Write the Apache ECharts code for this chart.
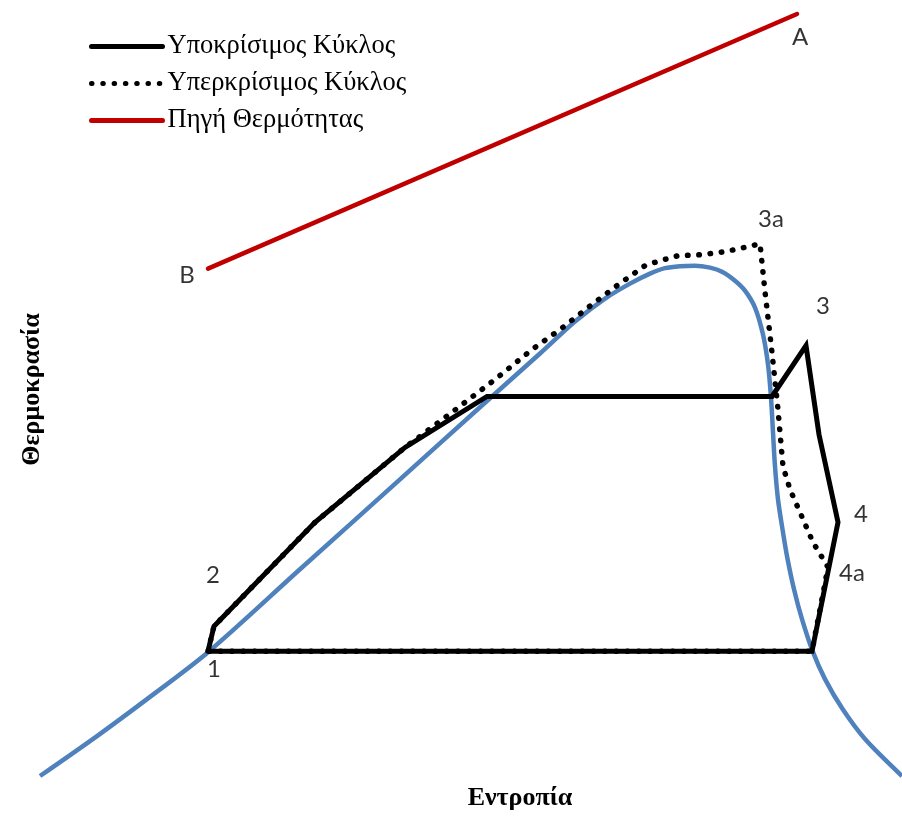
<!DOCTYPE html>
<html>
<head>
<meta charset="utf-8">
<script src="https://cdn.jsdelivr.net/npm/echarts@6/dist/echarts.min.js"></script>
<style>
html,body{margin:0;padding:0;background:#fff;}
#chart{width:902px;height:816px;}
</style>
</head>
<body>
<div id="chart"></div>
<script>
// Entropy (x) / Temperature (y) in arbitrary units
var saturationCurve = [
  [0.00, 0.3], [0.57, 4.3], [1.07, 8.0], [1.68, 12.7], [2.60, 21.0], [3.60, 30.0],
  [4.43, 37.5], [5.00, 42.6], [5.35, 45.8], [5.65, 48.1], [5.90, 49.6], [6.10, 50.6],
  [6.25, 51.15], [6.40, 51.35], [6.55, 51.4], [6.70, 51.2], [6.82, 50.8], [6.95, 49.9],
  [7.05, 48.9], [7.15, 47.2], [7.23, 44.5], [7.28, 41.5], [7.31, 38.2], [7.33, 34.7],
  [7.35, 31.3], [7.38, 28.0], [7.43, 24.7], [7.476, 22.0], [7.54, 19.0], [7.62, 16.0],
  [7.726, 12.8], [7.85, 10.0], [8.026, 7.0], [8.25, 4.0], [8.62, 0.3]
];
var subcriticalCycle = [
  [1.68, 12.8], [1.74, 15.3], [2.75, 25.7], [3.65, 33.2], [4.47, 38.3], [7.32, 38.3],
  [7.66, 43.4], [7.79, 34.5], [7.98, 25.7], [7.72, 12.8], [1.68, 12.8]
];
var supercriticalCycle = [
  [1.68, 12.8], [1.74, 15.3], [2.75, 25.7], [3.65, 33.2], [3.80, 34.3], [4.17, 37.1],
  [4.55, 40.0], [4.92, 43.0], [5.20, 45.0], [5.48, 47.2], [5.77, 49.4], [6.05, 51.4],
  [6.17, 51.8], [6.38, 52.4], [6.62, 52.5], [6.85, 52.8], [7.08, 53.3], [7.20, 53.6],
  [7.25, 48.8], [7.32, 42.7], [7.38, 37.0], [7.43, 31.3], [7.50, 29.0], [7.60, 26.7],
  [7.73, 23.7], [7.88, 21.2], [7.72, 12.8], [1.68, 12.8]
];
var heatSource = [[1.68, 51.1], [7.57, 76.6]];

var seriesNames = ['Υποκρίσιμος Κύκλος', 'Υπερκρίσιμος Κύκλος', 'Πηγή Θερμότητας'];
var axisNames = ['Εντροπία', 'Θερμοκρασία'];

// point labels: name, source point
var pointLabels = [
  {name: 'A',  point: heatSource[1],          offset: [3, 23]},
  {name: 'B',  point: heatSource[0],          offset: [-21, 7]},
  {name: '1',  point: subcriticalCycle[0],    offset: [6, 18]},
  {name: '2',  point: subcriticalCycle[1],    offset: [-1, -51]},
  {name: '3',  point: subcriticalCycle[6],    offset: [17, -39]},
  {name: '3a', point: supercriticalCycle[17], offset: [11, -24]},
  {name: '4',  point: subcriticalCycle[8],    offset: [23, -8]},
  {name: '4a', point: supercriticalCycle[25], offset: [24, 6]}
];

var chart = echarts.init(document.getElementById('chart'), null, {renderer: 'canvas'});
var serif = '"Liberation Serif", "Times New Roman", serif';
var sans = 'Lato, "Liberation Sans", sans-serif';

chart.setOption({
  animation: false,
  backgroundColor: '#ffffff',
  grid: {left: 40, right: 0, top: 0, bottom: 36, containLabel: false},
  legend: {
    orient: 'vertical',
    left: 84,
    top: 28,
    itemWidth: 71,
    itemHeight: 14,
    itemGap: 10,
    data: seriesNames,
    itemStyle: {opacity: 0},
    lineStyle: {width: 5, cap: 'round'},
    textStyle: {fontFamily: serif, fontSize: 26.5, lineHeight: 26, color: '#000'}
  },
  xAxis: {
    type: 'value', min: 0, max: 8.62,
    axisLine: {show: false}, axisTick: {show: false}, axisLabel: {show: false}, splitLine: {show: false},
    name: axisNames[0], nameLocation: 'middle', nameGap: 6,
    nameTextStyle: {fontFamily: serif, fontWeight: 'bold', fontSize: 26, color: '#000', padding: [0, 0, 0, 98]}
  },
  yAxis: {
    type: 'value', min: 0, max: 78,
    axisLine: {show: false}, axisTick: {show: false}, axisLabel: {show: false}, splitLine: {show: false},
    name: axisNames[1], nameLocation: 'middle', nameGap: -5, nameRotate: 90,
    nameTextStyle: {fontFamily: serif, fontWeight: 'bold', fontSize: 26, color: '#000'}
  },
  series: [
    {
      name: 'saturation', type: 'line', data: saturationCurve, smooth: 0.3, symbol: 'none',
      lineStyle: {color: '#4F81BD', width: 4.5}, itemStyle: {color: '#4F81BD'}, z: 1
    },
    {
      name: seriesNames[0], type: 'line', data: subcriticalCycle, symbol: 'none',
      lineStyle: {color: '#000', width: 5, join: 'miter'}, itemStyle: {color: '#000'}, z: 4
    },
    {
      name: seriesNames[1], type: 'line', data: supercriticalCycle, symbol: 'none',
      lineStyle: {color: '#000', width: 5.5, type: [0.5, 10.8], cap: 'round'}, itemStyle: {color: '#000'}, z: 3
    },
    {
      name: seriesNames[2], type: 'line', data: heatSource, symbol: 'none',
      lineStyle: {color: '#C00000', width: 4.5, cap: 'round'}, itemStyle: {color: '#C00000'}, z: 2
    },
    {
      name: 'labels', type: 'scatter', symbolSize: 0, z: 5, silent: true,
      data: pointLabels.map(function (p) {
        return {
          name: p.name, value: p.point,
          label: {show: true, position: 'inside', offset: p.offset, formatter: '{b}',
                  fontFamily: sans, fontSize: 24, color: '#000'}
        };
      })
    }
  ]
});
</script>
</body>
</html>
